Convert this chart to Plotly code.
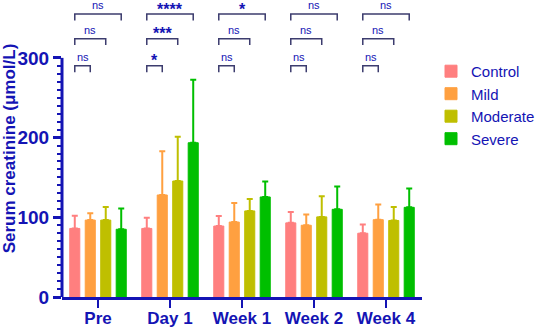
import plotly.graph_objects as go

categories = ["Pre", "Day 1", "Week 1", "Week 2", "Week 4"]
groups = ["Control", "Mild", "Moderate", "Severe"]
colors = ["#FF7F7F", "#FFA040", "#BFBF00", "#00BF00"]

means = {
    "Control": [86, 86, 89, 93, 80],
    "Mild": [96.5, 128, 94, 90, 97],
    "Moderate": [96.5, 145.5, 108, 100.5, 96],
    "Severe": [85, 193.5, 125.5, 110, 112.5],
}
errors_plus = {
    "Control": [16, 13.5, 12.5, 13.5, 11],
    "Mild": [8.5, 55, 24, 13.5, 19],
    "Moderate": [16.5, 55.5, 15, 26, 17],
    "Severe": [26, 79, 19.5, 28.5, 23.5],
}
# significance labels: comparisons Control vs Mild, Moderate, Severe per time point
sig_labels = [
    ["ns", "ns", "ns"],
    ["*", "***", "****"],
    ["ns", "ns", "*"],
    ["ns", "ns", "ns"],
    ["ns", "ns", "ns"],
]
sig_levels = [290, 324, 355]

AX = "#1414B4"
BR = "#3C3C6E"
FONT = "Liberation Sans, Arial, sans-serif"

bargap = 0.14
bargroupgap = 0.35
slot = (1 - bargap) / len(groups)

fig = go.Figure()
for g, c in zip(groups, colors):
    fig.add_trace(go.Bar(
        name=g, x=categories, y=means[g],
        marker=dict(color=c, line=dict(color=c, width=1)),
        error_y=dict(type="data", array=errors_plus[g], symmetric=False,
                     arrayminus=[0] * len(categories), color=c, thickness=2, width=3),
    ))

shapes = []
annotations = []
for ci, labs in enumerate(sig_labels):
    x0 = ci + (0 - 1.5) * slot
    for k, (lab, lev) in enumerate(zip(labs, sig_levels)):
        x1 = ci + (k + 1 - 1.5) * slot
        shapes.append(dict(type="path", xref="x", yref="y",
                           path=f"M {x0},{lev - 8} L {x0},{lev} L {x1},{lev} L {x1},{lev - 8}",
                           line=dict(color=BR, width=1.5)))
        is_ns = lab == "ns"
        annotations.append(dict(x=(x0 + x1) / 2, y=lev, xref="x", yref="y", text=lab,
                                showarrow=False, yanchor="middle",
                                yshift=9 if is_ns else 5,
                                font=dict(family=FONT, size=11 if is_ns else 16, color=AX,
                                          weight="normal" if is_ns else "bold")))

# y axis line only up to 300
shapes.append(dict(type="line", xref="paper", yref="y", x0=0, x1=0, y0=0, y1=300,
                   line=dict(color=AX, width=3)))

fig.update_layout(
    width=536, height=329,
    margin=dict(l=62, r=114, t=0, b=32, autoexpand=False),
    paper_bgcolor="white", plot_bgcolor="white",
    barmode="group", bargap=bargap, bargroupgap=bargroupgap,
    font=dict(family=FONT, color=AX),
    shapes=shapes, annotations=annotations,
    legend=dict(x=1.025, y=0.815, xanchor="left", yanchor="top",
                font=dict(family=FONT, size=15, color=AX),
                tracegroupgap=0, itemwidth=30),
    showlegend=True,
)
fig.update_xaxes(
    showline=True, linecolor=AX, linewidth=3,
    ticks="outside", tickcolor=AX, ticklen=8, tickwidth=2,
    tickfont=dict(family=FONT, size=17, color=AX, weight="bold"),
    ticklabelstandoff=-4,
    showgrid=False, zeroline=False,
)
fig.update_yaxes(
    range=[0, 372.6], showline=False,
    tickmode="array", tickvals=[0, 100, 200, 300],
    ticks="outside", tickcolor=AX, ticklen=8, tickwidth=3,
    tickfont=dict(family=FONT, size=19, color=AX, weight="bold"),
    minor=dict(tickmode="array", tickvals=[v for v in range(10, 300, 10) if v % 100],
               ticks="outside", ticklen=4, tickwidth=2, tickcolor=AX, showgrid=False),
    title=dict(text="Serum creatinine (μmol/L)", font=dict(family=FONT, size=17, color=AX, weight="bold"),
               standoff=7),
    showgrid=False, zeroline=False,
)

fig.write_html("out.html", config={"displayModeBar": False},
               post_script="document.body.style.margin='0';document.body.style.overflow='hidden';")
